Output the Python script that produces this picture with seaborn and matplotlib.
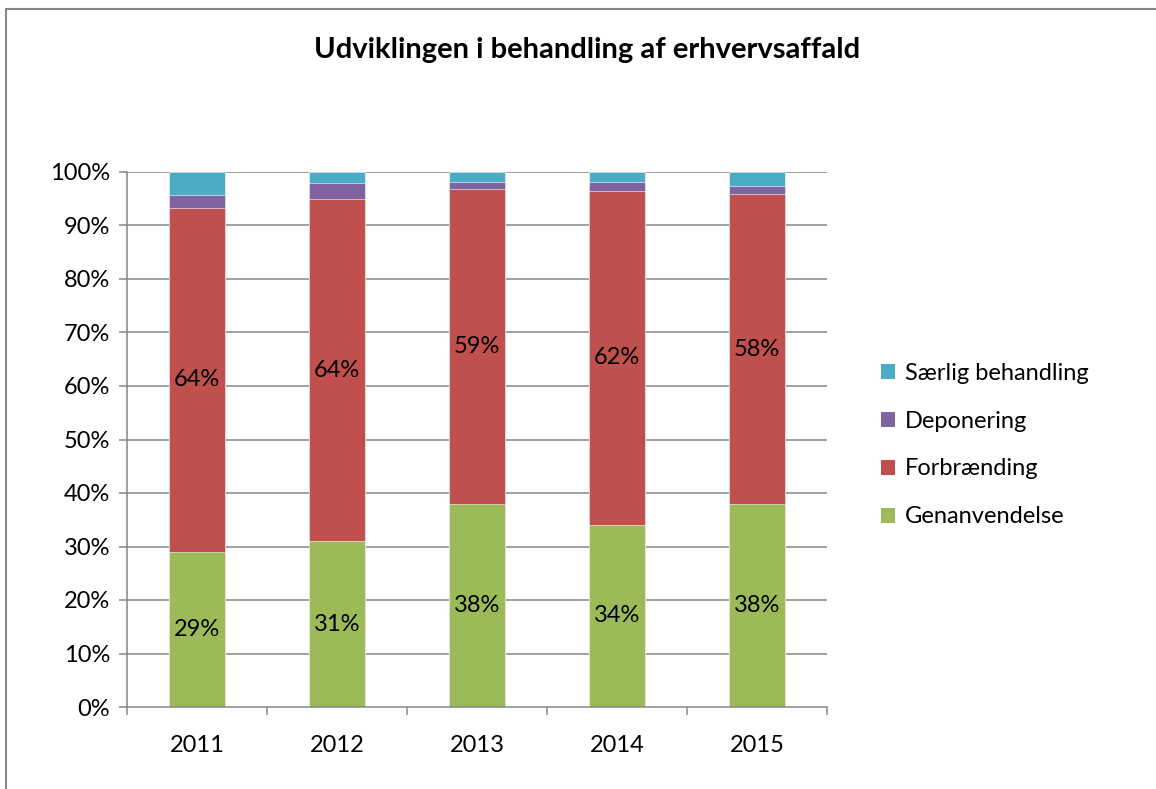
import numpy as np
import pandas as pd
import matplotlib
matplotlib.use("Agg")
import matplotlib.pyplot as plt
import seaborn as sns
from matplotlib.patches import Patch

years = ["2011", "2012", "2013", "2014", "2015"]
genanvendelse = [29.0, 31.0, 38.0, 34.1, 38.0]
forbraending = [64.3, 63.9, 58.8, 62.3, 57.8]
deponering = [2.4, 3.1, 1.4, 1.8, 1.5]
saerlig = [4.3, 2.0, 1.8, 1.8, 2.7]
series_names = ["Genanvendelse", "Forbrænding", "Deponering", "Særlig behandling"]
colors = ["#9BBB59", "#C0504D", "#8064A2", "#4BACC6"]
labelled = [True, True, False, False]

sns.set_theme(style="white")
plt.rcParams["font.family"] = ["Lato", "DejaVu Sans"]
plt.rcParams["text.color"] = "black"
plt.rcParams["xtick.labelcolor"] = "black"
plt.rcParams["ytick.labelcolor"] = "black"

fig = plt.figure(figsize=(11.56, 7.89), dpi=100)
ax = fig.add_axes([127 / 1156, 1 - 707 / 789, 700 / 1156, 535 / 789])

vals = np.array([genanvendelse, forbraending, deponering, saerlig])
cum = np.cumsum(vals, axis=0)
cum = cum / cum[-1] * 100.0

for t in range(10, 101, 10):
    ax.axhline(t, color="#868686", lw=1.1, zorder=0)

for i in range(len(series_names) - 1, -1, -1):
    df = pd.DataFrame({"year": years, "value": cum[i]})
    sns.barplot(data=df, x="year", y="value", color=colors[i], width=0.4,
                saturation=1, ax=ax, zorder=2, edgecolor="white", linewidth=0.4)

for i in range(len(series_names)):
    if not labelled[i]:
        continue
    base = cum[i - 1] if i > 0 else np.zeros(len(years))
    for j in range(len(years)):
        mid = (base[j] + cum[i][j]) / 2
        ax.text(j, mid, f"{round(vals[i][j]):d}%", ha="center", va="center",
                fontsize=17, color="black", zorder=3)

ax.set_xlim(-0.5, len(years) - 0.5)
ax.set_ylim(0, 100)
ax.set_yticks(range(0, 101, 10))
ax.set_yticklabels([f"{t}%" for t in range(0, 101, 10)], fontsize=17, color="black")
ax.set_xticks(range(len(years)))
ax.set_xticklabels(years, fontsize=17, color="black")
ax.set_xlabel("")
ax.set_ylabel("")

for s in ["top", "right"]:
    ax.spines[s].set_visible(False)
for s in ["left", "bottom"]:
    ax.spines[s].set_color("#868686")
    ax.spines[s].set_linewidth(1.1)

ax.tick_params(axis="y", which="major", left=True, length=6, width=1.1,
               color="#868686", pad=6)
ax.tick_params(axis="x", which="major", bottom=False, pad=14)
ax.set_xticks(np.arange(-0.5, len(years), 1.0), minor=True)
ax.tick_params(axis="x", which="minor", bottom=True, length=6, width=1.1,
               color="#868686")

fig.text(587 / 1156, 1 - 50 / 789, "Udviklingen i behandling af erhvervsaffald",
         ha="center", va="center", fontsize=21, fontweight="bold", color="black")

handles = [Patch(facecolor=colors[i], edgecolor="none") for i in range(len(series_names) - 1, -1, -1)]
labels = [series_names[i] for i in range(len(series_names) - 1, -1, -1)]
fig.legend(handles, labels, loc="center left", bbox_to_anchor=(860 / 1156, 1 - 445 / 789),
           frameon=False, fontsize=17, handlelength=0.6, handleheight=0.6,
           labelspacing=1.14, handletextpad=0.4, labelcolor="black")

fig.add_artist(plt.Line2D([6 / 1156, 6 / 1156], [0, 1 - 9 / 789], transform=fig.transFigure,
                          color="#868686", lw=1.5))
fig.add_artist(plt.Line2D([6 / 1156, 1], [1 - 9 / 789, 1 - 9 / 789], transform=fig.transFigure,
                          color="#868686", lw=1.5))

fig.savefig("out.png", dpi=100, facecolor="white")
